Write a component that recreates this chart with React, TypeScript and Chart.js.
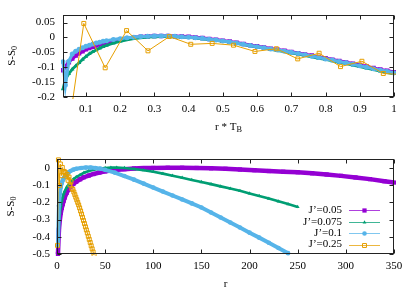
import React, { useEffect, useRef } from "react";
import { Chart, registerables } from "chart.js";
Chart.register(...registerables);

const SERIF = "'Liberation Serif','DejaVu Serif',serif";
const SERIES_LABELS = ["J’=0.05", "J’=0.075", "J’=0.1", "J’=0.25"];
const SERIES_COLORS = ["#9400d3", "#009e73", "#56b4e9", "#e69f00"];

// ---------- top panel: S-S0 vs r*T_B ----------
const TOP_X = [0.033, 0.04, 0.05, 0.06, 0.07, 0.08, 0.09, 0.1, 0.11, 0.12, 0.13, 0.14, 0.15, 0.16,
  0.18, 0.2, 0.22, 0.24, 0.26, 0.28, 0.3, 0.32, 0.34, 0.36, 0.38, 0.4, 0.42, 0.44, 0.46, 0.48, 0.5,
  0.52, 0.54, 0.56, 0.58, 0.6, 0.62, 0.64, 0.66, 0.68, 0.7, 0.72, 0.74, 0.76, 0.78, 0.8, 0.82, 0.84,
  0.86, 0.88, 0.9, 0.92, 0.94, 0.96, 0.98, 1.0];
const TOP_J005 = [-0.11, -0.098, -0.083, -0.071, -0.061, -0.053, -0.046, -0.04, -0.035, -0.031, -0.027, -0.023, -0.02, -0.017,
  -0.011, -0.007, -0.003, 0.0, 0.002, 0.004, 0.005, 0.005, 0.005, 0.004, 0.003, 0.002, 0.0, -0.002, -0.005, -0.008, -0.011,
  -0.014, -0.018, -0.022, -0.026, -0.03, -0.034, -0.038, -0.041, -0.045, -0.049, -0.053, -0.057, -0.061, -0.066, -0.07, -0.075, -0.079,
  -0.084, -0.088, -0.093, -0.098, -0.103, -0.108, -0.112, -0.117];
const TOP_J0075 = [-0.173, -0.14, -0.122, -0.107, -0.096, -0.085, -0.074, -0.064, -0.055, -0.048, -0.042, -0.036, -0.031, -0.027,
  -0.019, -0.013, -0.008, -0.004, -0.001, 0.001, 0.002, 0.003, 0.003, 0.002, 0.001, 0.0, -0.002, -0.005, -0.007, -0.01, -0.013,
  -0.016, -0.02, -0.024, -0.028, -0.032, -0.036, -0.04, -0.044, -0.048, -0.052, -0.056, -0.061, -0.065, -0.07, -0.074, -0.079, -0.084,
  -0.088, -0.093, -0.098, -0.103, -0.108, -0.113, -0.118, -0.122];
const TOP_J01 = [-0.082, -0.16, -0.08, -0.056, -0.046, -0.04, -0.035, -0.03, -0.026, -0.022, -0.019, -0.016, -0.013, -0.011,
  -0.007, -0.004, -0.001, 0.001, 0.003, 0.004, 0.005, 0.005, 0.005, 0.004, 0.002, 0.001, -0.001, -0.003, -0.006, -0.009, -0.012,
  -0.015, -0.019, -0.023, -0.027, -0.031, -0.035, -0.039, -0.042, -0.046, -0.05, -0.054, -0.058, -0.063, -0.067, -0.072, -0.076, -0.081,
  -0.085, -0.09, -0.095, -0.1, -0.105, -0.11, -0.114, -0.119];
const TB_J025 = 0.0625;

const TOP_X_TICKS = [0.1, 0.2, 0.3, 0.4, 0.5, 0.6, 0.7, 0.8, 0.9, 1.0];
const TOP_X_LABELS = ["0.1", "0.2", "0.3", "0.4", "0.5", "0.6", "0.7", "0.8", "0.9", "1"];
const TOP_Y_TICKS = [-0.2, -0.15, -0.1, -0.05, 0, 0.05];
const TOP_Y_LABELS = ["-0.2", "-0.15", "-0.1", "-0.05", "0", "0.05"];

// ---------- bottom panel: S-S0 vs r ----------
const R_J005 = [1, 2, 3, 4, 5, 6, 7, 8, 10, 12, 14, 17, 20, 24, 28, 33, 38, 44, 50, 60, 70, 80, 90, 100,
  115, 130, 145, 160, 175, 190, 205, 220, 235, 250, 265, 280, 295, 310, 325, 340, 350];
const S_J005 = [-0.5, -0.36, -0.3, -0.26, -0.232, -0.21, -0.19, -0.172, -0.145, -0.126, -0.11, -0.093, -0.08, -0.066,
  -0.054, -0.044, -0.035, -0.027, -0.02, -0.012, -0.007, -0.003, -0.001, 0.0,
  0.001, 0.001, 0.0, -0.002, -0.005, -0.009, -0.013, -0.018, -0.022, -0.025, -0.031, -0.038, -0.046, -0.055, -0.065, -0.077, -0.085];
const R_J0075 = [2, 3, 4, 5, 6, 7, 8, 10, 12, 14, 17, 20, 24, 28, 33, 38, 44, 50, 56, 62, 70,
  80, 90, 100, 110, 120, 130, 140, 150, 160, 170, 180, 190, 200, 210, 220, 230, 240, 250];
const S_J0075 = [-0.34, -0.26, -0.22, -0.19, -0.168, -0.15, -0.136, -0.113, -0.097, -0.083, -0.066, -0.053, -0.04, -0.028,
  -0.018, -0.01, -0.004, 0.0, 0.002, 0.002, 0.0,
  -0.006, -0.013, -0.022, -0.033, -0.045, -0.057, -0.07, -0.082, -0.094, -0.107, -0.12, -0.133, -0.148, -0.163, -0.178, -0.194, -0.21, -0.227];
const R_J01 = [1, 2, 3, 4, 5, 6, 7, 8, 10, 12, 14, 17, 20, 25, 30, 35, 40, 45, 50,
  60, 70, 80, 90, 100, 110, 120, 130, 140, 150, 160, 170, 180, 190, 200, 210, 220, 230, 240];
const S_J01 = [-0.45, -0.22, -0.15, -0.11, -0.088, -0.072, -0.06, -0.05, -0.036, -0.026, -0.018, -0.01, -0.005,
  0.0, 0.002, 0.002, 0.0, -0.004, -0.011,
  -0.027, -0.047, -0.068, -0.091, -0.114, -0.137, -0.16, -0.183, -0.206, -0.23, -0.259, -0.288, -0.317, -0.346, -0.376,
  -0.405, -0.435, -0.465, -0.495];
const R_J025 = [0.5, 1.5, 2.5, 3.5, 4.5, 5.5, 6.5, 7.5, 8.5, 9.5, 10.5, 11.5, 12.5, 13.5, 14.5, 15.5, 16.5, 17.5, 18.5, 19.5,
  20.5, 21.5, 22.5, 23.5, 24.5, 25.5, 26.5, 27.5, 28.5, 29.5, 30.5, 31.5, 32.5, 33.5, 34.5, 35.5, 36.5, 37.5, 38.5];
const S_J025 = [-0.45, 0.047, -0.102, 0.023, -0.045, 0.003, -0.023, -0.02, -0.026, -0.047, -0.038, -0.072, -0.053, -0.098,
  -0.08, -0.121, -0.125, -0.14, -0.155, -0.17, -0.185, -0.2, -0.215, -0.232, -0.25, -0.268, -0.287, -0.305, -0.323, -0.342,
  -0.36, -0.378, -0.397, -0.415, -0.433, -0.452, -0.47, -0.488, -0.507];

const BOT_X_TICKS = [0, 50, 100, 150, 200, 250, 300, 350];
const BOT_X_LABELS = ["0", "50", "100", "150", "200", "250", "300", "350"];
const BOT_Y_TICKS = [-0.5, -0.4, -0.3, -0.2, -0.1, 0];
const BOT_Y_LABELS = ["-0.5", "-0.4", "-0.3", "-0.2", "-0.1", "0"];

const pairs = (xs: number[], ys: number[]) => xs.map((x, i) => ({ x, y: ys[i] }));

type Style = { pointStyle: string; radius: number; fill: boolean; lw: number };
const TOP_STYLES: Style[] = [
  { pointStyle: "rect", radius: 3.2, fill: true, lw: 3.5 },
  { pointStyle: "triangle", radius: 2.6, fill: true, lw: 2.8 },
  { pointStyle: "circle", radius: 2.5, fill: true, lw: 3.2 },
  { pointStyle: "rect", radius: 2.8, fill: false, lw: 1 },
];
const BOT_STYLES: Style[] = [
  { pointStyle: "rect", radius: 3, fill: true, lw: 4.5 },
  { pointStyle: "triangle", radius: 2.2, fill: true, lw: 2.6 },
  { pointStyle: "circle", radius: 2.3, fill: true, lw: 4 },
  { pointStyle: "rect", radius: 2.8, fill: false, lw: 1 },
];

function makeDataset(i: number, data: { x: number; y: number }[], st: Style) {
  const c = SERIES_COLORS[i];
  return {
    label: SERIES_LABELS[i],
    data,
    showLine: true,
    borderColor: c,
    backgroundColor: c,
    borderWidth: st.lw,
    pointStyle: st.pointStyle,
    pointRadius: st.radius,
    pointHoverRadius: st.radius,
    pointBackgroundColor: st.fill ? c : "rgba(0,0,0,0)",
    pointBorderColor: c,
    pointBorderWidth: st.fill ? 0 : 1,
    order: 4 - i,
    clip: 2,
  };
}

function drawSubText(ctx: CanvasRenderingContext2D, main: string, sub: string, cx: number, cy: number, size: number) {
  ctx.font = `${size}px ${SERIF}`;
  const w1 = ctx.measureText(main).width;
  ctx.font = `${size * 0.75}px ${SERIF}`;
  const w2 = ctx.measureText(sub).width;
  const x0 = cx - (w1 + w2) / 2;
  ctx.textBaseline = "middle";
  ctx.textAlign = "left";
  ctx.fillStyle = "#000";
  ctx.font = `${size}px ${SERIF}`;
  ctx.fillText(main, x0, cy);
  ctx.font = `${size * 0.75}px ${SERIF}`;
  ctx.fillText(sub, x0 + w1, cy + size * 0.3);
}

function drawMarker(ctx: CanvasRenderingContext2D, st: Style, x: number, y: number, color: string) {
  ctx.beginPath();
  const r = st.radius;
  if (st.pointStyle === "rect") {
    const s = r * Math.SQRT1_2;
    ctx.rect(x - s, y - s, 2 * s, 2 * s);
  } else if (st.pointStyle === "triangle") {
    ctx.moveTo(x, y - r);
    ctx.lineTo(x + r * 0.866, y + r * 0.5);
    ctx.lineTo(x - r * 0.866, y + r * 0.5);
    ctx.closePath();
  } else {
    ctx.arc(x, y, r, 0, Math.PI * 2);
  }
  if (st.fill) {
    ctx.fillStyle = color;
    ctx.fill();
  } else {
    ctx.strokeStyle = color;
    ctx.lineWidth = 1;
    ctx.stroke();
  }
}

function decorPlugin(cfg: {
  xMain: string; xSub: string; yMain: string; ySub: string; yTitleX: number;
  xTicks: number[]; yTicks: number[]; legend: boolean; styles: Style[];
}) {
  return {
    id: "decor",
    afterDatasetsDraw(chart: any) {
      const ctx: CanvasRenderingContext2D = chart.ctx;
      const a = chart.chartArea;
      const xs = chart.scales.x;
      const ys = chart.scales.y;
      ctx.save();
      ctx.strokeStyle = "#222";
      ctx.lineWidth = 1;
      const L = Math.round(a.left) + 0.5;
      const R = Math.round(a.right) - 0.5;
      const T = Math.round(a.top) + 0.5;
      const B = Math.round(a.bottom) - 0.5;
      ctx.strokeRect(L, T, R - L, B - T);
      ctx.beginPath();
      cfg.xTicks.forEach((v) => {
        const px = Math.round(xs.getPixelForValue(v)) + 0.5;
        ctx.moveTo(px, B);
        ctx.lineTo(px, B - 4);
        ctx.moveTo(px, T);
        ctx.lineTo(px, T + 4);
      });
      cfg.yTicks.forEach((v) => {
        const py = Math.round(ys.getPixelForValue(v)) + 0.5;
        ctx.moveTo(L, py);
        ctx.lineTo(L + 4, py);
        ctx.moveTo(R, py);
        ctx.lineTo(R - 4, py);
      });
      ctx.stroke();

      drawSubText(ctx, cfg.xMain, cfg.xSub, (a.left + a.right) / 2, a.bottom + 30, 11);
      ctx.save();
      ctx.translate(cfg.yTitleX, (a.top + a.bottom) / 2);
      ctx.rotate(-Math.PI / 2);
      drawSubText(ctx, cfg.yMain, cfg.ySub, 0, 0, 11);
      ctx.restore();

      if (cfg.legend) {
        for (let i = 0; i < 4; i++) {
          const y = a.bottom - 9.5 - (3 - i) * 11.4;
          ctx.font = `11px ${SERIF}`;
          ctx.textAlign = "right";
          ctx.textBaseline = "middle";
          ctx.fillStyle = "#000";
          ctx.fillText(SERIES_LABELS[i], a.right - 52, y);
          ctx.strokeStyle = SERIES_COLORS[i];
          ctx.lineWidth = 1;
          ctx.globalAlpha = 0.75;
          ctx.beginPath();
          ctx.moveTo(a.right - 45, Math.round(y) + 0.5);
          ctx.lineTo(a.right - 14, Math.round(y) + 0.5);
          ctx.stroke();
          ctx.globalAlpha = 1;
          drawMarker(ctx, cfg.styles[i], a.right - 29.5, Math.round(y) + 0.5, SERIES_COLORS[i]);
        }
      }
      ctx.restore();
    },
  };
}

function axisOpts(min: number, max: number, ticks: number[], labels: string[], size: number, pad: number, isX: boolean) {
  return {
    type: "linear" as const,
    min,
    max,
    afterBuildTicks: (s: any) => {
      s.ticks = ticks.map((v) => ({ value: v }));
    },
    afterFit: (s: any) => {
      if (isX) s.height = size;
      else s.width = size;
    },
    grid: { display: false, drawTicks: false },
    border: { display: false },
    ticks: {
      autoSkip: false,
      maxRotation: 0,
      padding: pad,
      color: "#000",
      font: { family: SERIF, size: 11 },
      callback: (_v: any, i: number) => labels[i],
    },
  };
}

export default function App() {
  const topRef = useRef<HTMLCanvasElement>(null);
  const botRef = useRef<HTMLCanvasElement>(null);

  useEffect(() => {
    const orangeTop = R_J025.filter((r) => r * TB_J025 <= 1.05).map((r, i) => ({ x: r * TB_J025, y: S_J025[i] }));
    const top = new Chart(topRef.current as HTMLCanvasElement, {
      type: "scatter",
      data: {
        datasets: [
          makeDataset(0, pairs(TOP_X, TOP_J005), TOP_STYLES[0]),
          makeDataset(1, pairs(TOP_X, TOP_J0075), TOP_STYLES[1]),
          makeDataset(2, pairs(TOP_X, TOP_J01), TOP_STYLES[2]),
          makeDataset(3, orangeTop, TOP_STYLES[3]),
        ] as any,
      },
      options: {
        responsive: false,
        animation: false,
        devicePixelRatio: 1,
        layout: { padding: { left: 0, right: 21, top: 14, bottom: 0 } },
        plugins: { legend: { display: false }, tooltip: { enabled: false } },
        scales: {
          x: axisOpts(0.033, 1.0, TOP_X_TICKS, TOP_X_LABELS, 48, 6, true),
          y: axisOpts(-0.2, 0.0767, TOP_Y_TICKS, TOP_Y_LABELS, 63, 8, false),
        } as any,
      },
      plugins: [
        decorPlugin({
          xMain: "r * T", xSub: "B", yMain: "S-S", ySub: "0", yTitleX: 12,
          xTicks: TOP_X_TICKS, yTicks: TOP_Y_TICKS, legend: false, styles: TOP_STYLES,
        }),
      ],
    });

    const bot = new Chart(botRef.current as HTMLCanvasElement, {
      type: "scatter",
      data: {
        datasets: [
          makeDataset(0, pairs(R_J005, S_J005), BOT_STYLES[0]),
          makeDataset(1, pairs(R_J0075, S_J0075), BOT_STYLES[1]),
          makeDataset(2, pairs(R_J01, S_J01), BOT_STYLES[2]),
          makeDataset(3, pairs(R_J025, S_J025), BOT_STYLES[3]),
        ] as any,
      },
      options: {
        responsive: false,
        animation: false,
        devicePixelRatio: 1,
        layout: { padding: { left: 0, right: 21, top: 14, bottom: 0 } },
        plugins: { legend: { display: false }, tooltip: { enabled: false } },
        scales: {
          x: axisOpts(0, 350, BOT_X_TICKS, BOT_X_LABELS, 37, 6, true),
          y: axisOpts(-0.5, 0.052, BOT_Y_TICKS, BOT_Y_LABELS, 57, 7, false),
        } as any,
      },
      plugins: [
        decorPlugin({
          xMain: "r", xSub: "", yMain: "S-S", ySub: "0", yTitleX: 11,
          xTicks: BOT_X_TICKS, yTicks: BOT_Y_TICKS, legend: true, styles: BOT_STYLES,
        }),
      ],
    });

    return () => {
      top.destroy();
      bot.destroy();
    };
  }, []);

  return (
    <div style={{ position: "fixed", left: 0, top: 0, width: 415, height: 291, background: "#fff" }}>
      <canvas ref={topRef} width={415} height={145} style={{ position: "absolute", left: 0, top: 0, width: 415, height: 145 }} />
      <canvas ref={botRef} width={415} height={146} style={{ position: "absolute", left: 0, top: 145, width: 415, height: 146 }} />
    </div>
  );
}
